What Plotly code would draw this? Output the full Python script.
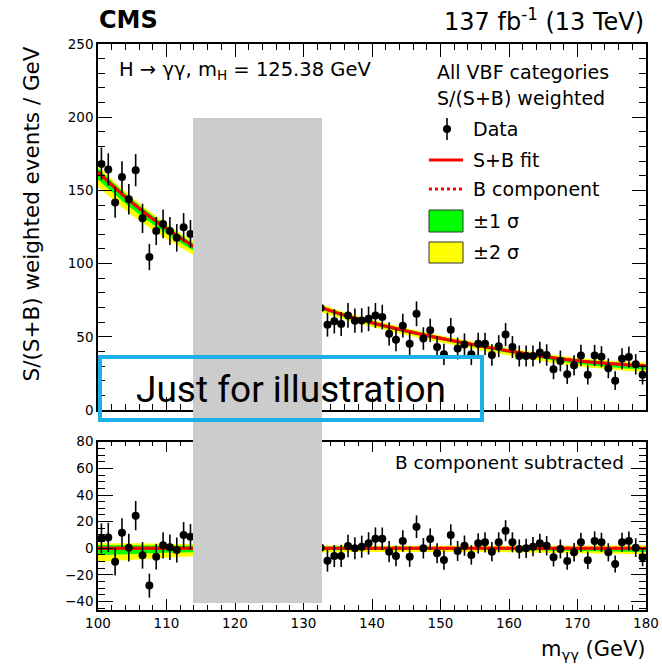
import plotly.graph_objects as go

# ---------------------------------------------------------------------------
# Diphoton invariant mass, 1 GeV bins (side bands only)
# ---------------------------------------------------------------------------
left_centres = [100.5 + i for i in range(14)]     # 100.5 ... 113.5 GeV
right_centres = [132.5 + i for i in range(48)]    # 132.5 ... 179.5 GeV

left_events = [168.1, 164.3, 141.7, 159.1, 144.0, 163.8, 130.9, 104.5,
               122.3, 127.1, 122.3, 117.6, 124.8, 120.3]
left_err = [11.2, 11.0, 10.4, 10.8, 10.4, 11.0, 10.0, 9.0,
            9.6, 9.8, 9.6, 9.4, 9.7, 9.5]
left_resid = [7.5, 8.2, -10.0, 11.7, 0.5, 24.5, -5.3, -28.0,
              -6.3, 2.2, 0.8, -1.3, 10.0, 8.7]

right_events = [69.6, 58.3, 60.6, 58.7, 64.6, 61.0, 61.2, 62.3, 64.6, 63.5,
                52.0, 47.9, 57.6, 45.2, 65.7, 48.8, 54.4, 43.0, 38.0, 54.9,
                42.0, 44.7, 38.0, 45.2, 45.2, 37.6, 43.6, 51.5, 43.0, 36.9,
                36.9, 36.9, 39.3, 37.6, 27.8, 33.5, 24.4, 30.5, 37.3, 24.0,
                37.3, 36.4, 28.5, 20.0, 35.0, 36.2, 31.2, 24.0]
right_err = [8.6, 8.2, 8.3, 8.2, 8.5, 8.3, 8.3, 8.4, 8.5, 8.4,
             7.9, 7.7, 8.1, 7.6, 8.5, 7.7, 8.0, 7.5, 7.3, 8.0,
             7.5, 7.6, 7.3, 7.6, 7.6, 7.3, 7.5, 7.9, 7.5, 7.2,
             7.2, 7.2, 7.3, 7.3, 6.8, 7.1, 6.6, 6.9, 7.2, 6.6,
             7.2, 7.2, 6.8, 6.4, 7.1, 7.2, 7.0, 6.6]
right_resid = [0.5, -9.3, -5.8, -5.8, 1.7, 0.0, 1.2, 3.7, 7.2, 7.2,
               -2.5, -5.8, 5.5, -6.3, 16.2, 0.0, 7.0, -3.8, -8.8, 10.0,
               -2.0, 2.0, -5.0, 3.7, 4.5, -2.5, 4.5, 13.2, 4.5, -0.5,
               0.0, 1.2, 3.7, 2.0, -6.8, -0.5, -9.5, -3.0, 4.5, -9.0,
               5.5, 4.5, -3.0, -11.8, 4.5, 5.5, 0.5, -6.8]

# ---------------------------------------------------------------------------
# Fit curves and uncertainty bands, sampled every 5 GeV
# ---------------------------------------------------------------------------
fit_mass = [100, 105, 110, 115, 120, 125, 130, 135, 140, 145, 150, 155,
            160, 165, 170, 175, 180]
bkg_fit = [162.5, 141.5, 123.8, 108.8, 96.0, 85.0, 74.5, 66.2, 59.6, 54.0,
           49.0, 44.5, 40.3, 36.6, 33.6, 31.6, 30.2]
sb_fit = [162.5, 141.5, 123.8, 108.8, 96.0, 85.0, 74.5, 66.2, 59.6, 54.0,
          49.0, 44.5, 40.3, 36.6, 33.6, 31.6, 30.2]
sig1_up = [2.5, 2.3, 2.1, 1.9, 1.7, 1.5, 1.4, 1.3, 1.2, 1.1, 1.0, 1.0,
           1.0, 1.0, 1.0, 1.0, 1.0]
sig1_dn = [5.0, 4.2, 3.4, 2.8, 2.3, 1.9, 1.6, 1.4, 1.3, 1.2, 1.2, 1.3,
           1.4, 1.6, 2.0, 2.4, 2.8]
sig2_up = [4.0, 3.7, 3.4, 3.1, 2.8, 2.5, 2.3, 2.1, 2.0, 1.9, 1.9, 1.9,
           1.9, 2.0, 2.0, 2.1, 2.2]
sig2_dn = [10.0, 8.5, 7.0, 5.5, 4.5, 3.8, 3.3, 3.0, 2.8, 2.7, 2.7, 2.8,
           3.0, 3.3, 3.7, 4.0, 4.4]

# ---------------------------------------------------------------------------
# Canvas geometry (pixels)
# ---------------------------------------------------------------------------
W, H = 662, 664
ML, MR, MT, MB = 98, 16, 44, 54
PW, PH = W - ML - MR, H - MT - MB
TOP_LO_PX, BOT_HI_PX = 410, 441.7


def px(x):
    return (x - ML) / PW


def py(y):
    return (H - MB - y) / PH


FONT = "DejaVu Sans, Liberation Sans, Arial, sans-serif"
BLACK = "#000000"
RED = "#ff0000"
GREEN = "#00ff00"
YELLOW = "#ffff00"

fig = go.Figure()


def add_bands(xa, ya, centre, offset):
    """Draw the 2 sigma / 1 sigma bands around `centre` (minus `offset`)."""
    base = [c - o for c, o in zip(centre, offset)]
    for up, dn, col in ((sig2_up, sig2_dn, YELLOW), (sig1_up, sig1_dn, GREEN)):
        fig.add_trace(go.Scatter(
            x=fit_mass, y=[b - d for b, d in zip(base, dn)], xaxis=xa, yaxis=ya,
            mode="lines", line=dict(width=0, shape="spline"),
            showlegend=False, hoverinfo="skip"))
        fig.add_trace(go.Scatter(
            x=fit_mass, y=[b + u for b, u in zip(base, up)], xaxis=xa, yaxis=ya,
            mode="lines", line=dict(width=0, shape="spline"), fill="tonexty",
            fillcolor=col, showlegend=False, hoverinfo="skip"))


def add_curves(xa, ya, offset):
    fig.add_trace(go.Scatter(
        x=fit_mass, y=[b - o for b, o in zip(bkg_fit, offset)], xaxis=xa, yaxis=ya,
        mode="lines", line=dict(color=RED, width=3, dash="dot", shape="spline"),
        showlegend=False, hoverinfo="skip"))
    fig.add_trace(go.Scatter(
        x=fit_mass, y=[s - o for s, o in zip(sb_fit, offset)], xaxis=xa, yaxis=ya,
        mode="lines", line=dict(color=RED, width=3, shape="spline"),
        showlegend=False, hoverinfo="skip"))


def add_points(xa, ya, xs, ys, errs):
    fig.add_trace(go.Scatter(
        x=xs, y=ys, xaxis=xa, yaxis=ya, mode="markers",
        marker=dict(color=BLACK, size=8),
        error_y=dict(type="data", array=errs, color=BLACK, thickness=1.6, width=0),
        showlegend=False))


zeros = [0.0] * len(fit_mass)

# upper panel: weighted events
add_bands("x", "y", bkg_fit, zeros)
add_curves("x", "y", zeros)
add_points("x", "y", left_centres, left_events, left_err)
add_points("x", "y", right_centres, right_events, right_err)

# lower panel: background component subtracted
add_bands("x2", "y2", bkg_fit, bkg_fit)
add_curves("x2", "y2", bkg_fit)
add_points("x2", "y2", left_centres, left_resid, left_err)
add_points("x2", "y2", right_centres, right_resid, right_err)

axis_common = dict(
    showline=True, linecolor=BLACK, linewidth=1.5, mirror="allticks",
    ticks="inside", tickcolor=BLACK, tickwidth=1.2,
    showgrid=False, zeroline=False, automargin=False,
    tickfont=dict(family=FONT, size=13.5, color=BLACK),
)

fig.update_layout(
    width=W, height=H, autosize=False,
    margin=dict(l=ML, r=MR, t=MT, b=MB, pad=0, autoexpand=False),
    paper_bgcolor="white", plot_bgcolor="white",
    showlegend=False,
    xaxis=dict(axis_common, domain=[0, 1], anchor="y", range=[100, 180],
               dtick=10, ticklen=13, showticklabels=False,
               minor=dict(dtick=2, ticklen=6, ticks="inside", tickcolor=BLACK,
                          tickwidth=1.2, showgrid=False)),
    yaxis=dict(axis_common, domain=[py(TOP_LO_PX), 1], anchor="x",
               range=[0, 250], dtick=50, ticklen=14,
               minor=dict(dtick=10, ticklen=7, ticks="inside", tickcolor=BLACK,
                          tickwidth=1.2, showgrid=False)),
    xaxis2=dict(axis_common, domain=[0, 1], anchor="y2", range=[100, 180],
                dtick=10, ticklen=11,
                minor=dict(dtick=2, ticklen=5, ticks="inside", tickcolor=BLACK,
                           tickwidth=1.2, showgrid=False)),
    yaxis2=dict(axis_common, domain=[0, py(BOT_HI_PX)], anchor="x2",
                range=[-46.3, 80], dtick=20, ticklen=15,
                minor=dict(dtick=5, ticklen=7, ticks="inside", tickcolor=BLACK,
                           tickwidth=1.2, showgrid=False)),
)

ann = []


def text(x, y, s, size=19, xanchor="left", yanchor="middle", **kw):
    ann.append(dict(x=px(x), y=py(y), xref="paper", yref="paper", text=s,
                    showarrow=False, xanchor=xanchor, yanchor=yanchor,
                    font=dict(family=FONT, size=size, color=BLACK), **kw))


text(97, 20, "<b>CMS</b>", size=24)
text(646, 20, "137 fb<sup>-1</sup> (13 TeV)", size=24, xanchor="right")
text(117, 70, "H \u2192 \u03b3\u03b3, m<sub>H</sub> = 125.38 GeV", size=19.5)
text(435, 72, "All VBF categories")
text(435, 98, "S/(S+B) weighted")
text(471, 129, "Data")
text(471, 160, "S+B fit")
text(471, 189, "B component")
text(471, 221, "\u00b11 \u03c3")
text(471, 252, "\u00b12 \u03c3")
text(626, 463, "B component subtracted", size=18.5, xanchor="right")
text(647, 650, "m<sub>\u03b3\u03b3</sub> (GeV)", size=21, xanchor="right")
text(31, 45, "S/(S+B) weighted events / GeV", size=21.5, xanchor="center",
     yanchor="top", textangle=-90)
text(291, 389, "Just for illustration", size=37, xanchor="center")
ann[-1]["font"]["family"] = "Roboto, sans-serif"

shapes = []


def rect(x0, y0, x1, y1, **kw):
    shapes.append(dict(type="rect", xref="paper", yref="paper",
                       x0=px(x0), x1=px(x1), y0=py(y1), y1=py(y0), **kw))


def seg(x0, y0, x1, y1, **kw):
    shapes.append(dict(type="line", xref="paper", yref="paper",
                       x0=px(x0), x1=px(x1), y0=py(y0), y1=py(y1), **kw))


# legend symbols
seg(447, 118, 447, 140, line=dict(color=BLACK, width=1.6))
shapes.append(dict(type="circle", xref="paper", yref="paper",
                   x0=px(443), x1=px(451), y0=py(133), y1=py(125),
                   fillcolor=BLACK, line=dict(color=BLACK, width=0)))
seg(429, 160, 463, 160, line=dict(color=RED, width=3))
seg(429, 189, 463, 189, line=dict(color=RED, width=3, dash="dot"))
rect(429, 210, 463, 232, fillcolor=GREEN, line=dict(color="#333333", width=1))
rect(429, 242, 463, 263, fillcolor=YELLOW, line=dict(color="#333333", width=1))

# blinded overlay and illustration frame
rect(193, 118, 322, 603, fillcolor="#cccccc", line=dict(width=0), layer="above")
rect(100, 357, 482, 420, fillcolor="rgba(0,0,0,0)",
     line=dict(color="#1ab0ea", width=4), layer="above")

fig.update_layout(annotations=ann, shapes=shapes)

page_js = """
document.documentElement.style.overflow = 'hidden';
document.body.style.overflow = 'hidden';
document.body.style.margin = '0';
"""

fig.write_html("out.html", config={"responsive": False}, post_script=page_js)
